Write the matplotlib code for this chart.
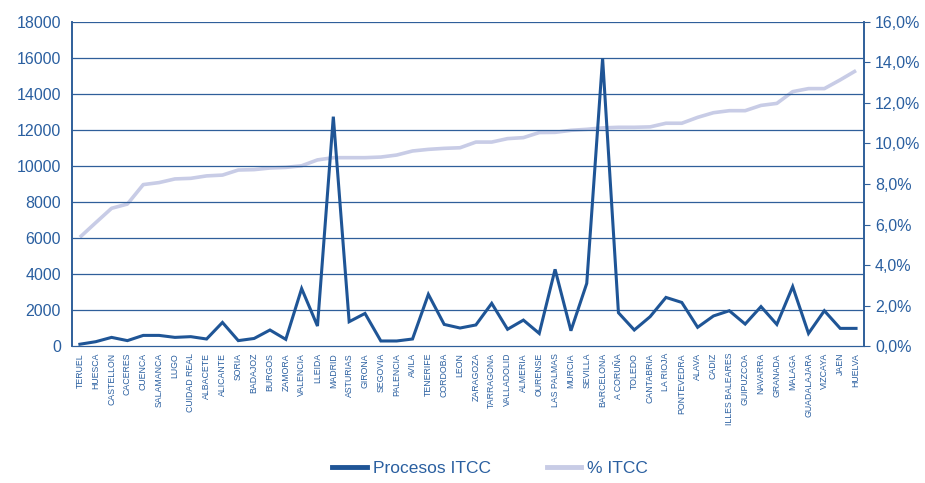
import matplotlib
matplotlib.use("Agg")
import matplotlib.pyplot as plt
from matplotlib.ticker import FuncFormatter

provincias = ["TERUEL", "HUESCA", "CASTELLON", "CACERES", "CUENCA", "SALAMANCA", "LUGO",
              "CUIDAD REAL", "ALBACETE", "ALICANTE", "SORIA", "BADAJOZ", "BURGOS", "ZAMORA",
              "VALENCIA", "LLEIDA", "MADRID", "ASTURIAS", "GIRONA", "SEGOVIA", "PALENCIA",
              "AVILA", "TENERIFE", "CORDOBA", "LEON", "ZARAGOZA", "TARRAGONA", "VALLADOLID",
              "ALMERIA", "OURENSE", "LAS PALMAS", "MURCIA", "SEVILLA", "BARCELONA", "A CORUÑA",
              "TOLEDO", "CANTABRIA", "LA RIOJA", "PONTEVEDRA", "ALAVA", "CADIZ",
              "ILLES BALEARES", "GUIPUZCOA", "NAVARRA", "GRANADA", "MALAGA", "GUADALAJARA",
              "VIZCAYA", "JAEN", "HUELVA"]

procesos = [100, 240, 480, 300, 590, 590, 480, 520, 390, 1310, 300, 420, 890, 370,
            3190, 1110, 12740, 1350, 1810, 280, 280, 390, 2870, 1200, 1000, 1170,
            2370, 930, 1440, 700, 4260, 850, 3480, 15980, 1850, 890, 1630, 2700,
            2420, 1040, 1670, 1960, 1220, 2190, 1200, 3300, 700, 1960, 980, 980]

pct_itcc = [5.37, 6.09, 6.80, 7.01, 7.97, 8.07, 8.25, 8.28, 8.40, 8.44, 8.69, 8.71,
            8.79, 8.82, 8.90, 9.19, 9.30, 9.30, 9.30, 9.33, 9.43, 9.63, 9.71, 9.76,
            9.79, 10.07, 10.07, 10.24, 10.29, 10.54, 10.55, 10.65, 10.70, 10.77,
            10.80, 10.80, 10.82, 11.00, 11.00, 11.29, 11.52, 11.62, 11.62, 11.88,
            11.98, 12.56, 12.71, 12.71, 13.14, 13.60]

dark = "#1f5596"
light = "#c8cce6"
txt = "#2a5fa0"
grid_c = "#2f5f9a"

plt.rcParams["font.family"] = ["Liberation Sans", "DejaVu Sans"]

fig = plt.figure(figsize=(9.25, 4.83), dpi=100)
ax = fig.add_axes([0.0778, 0.2836, 0.8562, 0.6709])
ax2 = ax.twinx()

x = list(range(len(provincias)))

# light line on the secondary axis, drawn behind the dark one
ax2.plot(x, pct_itcc, color=light, lw=2.6, solid_capstyle="butt", zorder=2)
ax.set_zorder(ax2.get_zorder() + 1)
ax.patch.set_visible(False)
ax.plot(x, procesos, color=dark, lw=2.2, solid_joinstyle="miter", zorder=3)

ax.set_xlim(-0.5, len(provincias) - 0.5)
ax.set_ylim(0, 18000)
ax.set_yticks(range(0, 18001, 2000))
ax2.set_ylim(0, 16)
ax2.set_yticks(range(0, 17, 2))
ax2.yaxis.set_major_formatter(FuncFormatter(lambda v, p: f"{v:.1f}%".replace(".", ",")))

for y in range(2000, 18001, 2000):
    ax.axhline(y, color=grid_c, lw=0.9, zorder=1)

ax.set_xticks(x)
ax.set_xticklabels(provincias, rotation=90, fontsize=6.3, color=txt,
                   family=["Liberation Sans Narrow", "Liberation Sans", "DejaVu Sans"])
ax.tick_params(axis="x", length=0, pad=5)
ax.tick_params(axis="y", length=0, labelsize=11.5, labelcolor=txt, pad=8)
ax2.tick_params(axis="y", length=4, color=grid_c, labelsize=11.5, labelcolor=txt, pad=4)

for a in (ax, ax2):
    a.spines["top"].set_visible(False)
    a.spines["left"].set_color(grid_c)
    a.spines["right"].set_color(grid_c)
    a.spines["bottom"].set_color(grid_c)
    a.spines["left"].set_linewidth(1.2)
    a.spines["right"].set_linewidth(1.2)

h1, = ax.plot([], [], color=dark, lw=3.5)
h2, = ax.plot([], [], color=light, lw=3.5)
leg = fig.legend([h1, h2], ["Procesos ITCC", "% ITCC"], loc="center",
                 bbox_to_anchor=(0.53, 0.03), ncol=2, frameon=False, fontsize=12.5,
                 handlelength=2.0, columnspacing=3.2, handletextpad=0.35)
for t in leg.get_texts():
    t.set_color(txt)

fig.savefig("out.png", dpi=100)
